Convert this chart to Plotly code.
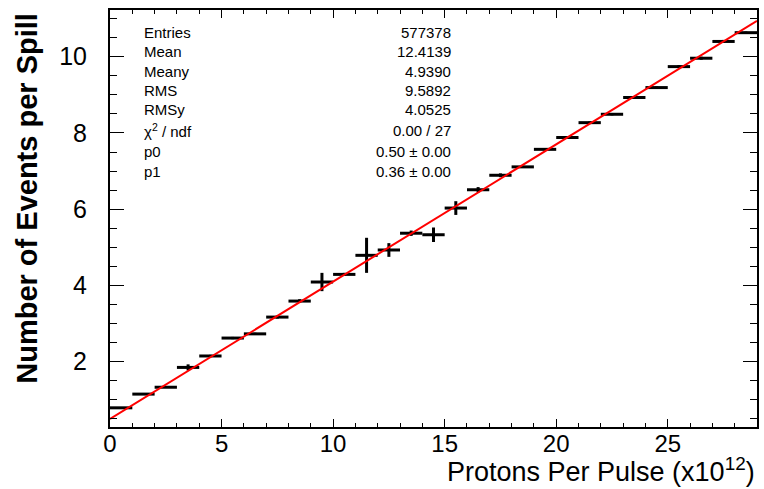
import numpy as np
import plotly.graph_objects as go

# ---- data ----
bin_low = 0.0
bin_width = 1.0
n_bins = 29
events_per_spill = [0.79, 1.15, 1.33, 1.85, 2.15, 2.62, 2.73, 3.17, 3.59, 4.09,
                    4.29, 4.79, 4.93, 5.37, 5.33, 6.03, 6.51, 6.89, 7.11, 7.57,
                    7.88, 8.27, 8.49, 8.93, 9.19, 9.74, 9.96, 10.40, 10.63]
events_err = [0.02, 0.02, 0.02, 0.08, 0.03, 0.03, 0.03, 0.04, 0.05, 0.24,
              0.04, 0.46, 0.18, 0.07, 0.19, 0.18, 0.07, 0.05, 0.03, 0.03,
              0.03, 0.03, 0.03, 0.03, 0.03, 0.04, 0.04, 0.04, 0.03]
fit_p0 = 0.50
fit_p1 = 0.36
stats_labels = ["Entries", "Mean", "Meany", "RMS", "RMSy", "χ<sup>2</sup> / ndf", "p0", "p1"]
stats_values = ["577378", "12.4139", "4.9390", "9.5892", "4.0525", "0.00 / 27",
                "0.50 ± 0.00", "0.36 ± 0.00"]
x_title = "Protons Per Pulse (x10<sup>12</sup>)"
y_title = "Number of Events per Spill"

x_centers = bin_low + bin_width * (np.arange(n_bins) + 0.5)
x_range = [bin_low, bin_low + bin_width * n_bins]
fit_x = np.array(x_range)
fit_y = fit_p0 + fit_p1 * fit_x

FONT = "Liberation Sans, Arial, Helvetica, sans-serif"

fig = go.Figure()
fig.add_trace(go.Scatter(
    x=x_centers, y=events_per_spill, mode="markers",
    marker=dict(size=1, color="rgba(0,0,0,0)"),
    error_x=dict(type="constant", value=bin_width / 2, thickness=3, width=0, color="black"),
    error_y=dict(type="data", array=events_err, thickness=3, width=0, color="black"),
    showlegend=False, hoverinfo="x+y"))
fig.add_trace(go.Scatter(
    x=fit_x, y=fit_y, mode="lines",
    line=dict(color="#ff0000", width=2), showlegend=False))

W, H = 764, 489
ml, mr, mt, mb = 110, 5, 10, 62
pw, ph = W - ml - mr, H - mt - mb

def px_x(p):
    return (p - ml) / pw

def px_y(p):
    return (H - mb - p) / ph

annotations = []
row_y = [32.3, 51.8, 71.0, 90.5, 110.0, 130.5, 151.0, 171.0]
for lab, val, yy in zip(stats_labels, stats_values, row_y):
    annotations.append(dict(xref="paper", yref="paper", x=px_x(142), y=px_y(yy),
                            text=lab, showarrow=False, xanchor="left", yanchor="middle",
                            font=dict(family=FONT, size=15, color="black")))
    annotations.append(dict(xref="paper", yref="paper", x=px_x(454), y=px_y(yy),
                            text=val, showarrow=False, xanchor="right", yanchor="middle",
                            font=dict(family=FONT, size=15, color="black")))
annotations.append(dict(xref="paper", yref="paper", x=px_x(759), y=px_y(470),
                        text=x_title, showarrow=False, xanchor="right", yanchor="middle",
                        font=dict(family=FONT, size=27, color="black")))
annotations.append(dict(xref="paper", yref="paper", x=px_x(27), y=px_y(198.5),
                        text="<b>" + y_title + "</b>", textangle=-90, showarrow=False,
                        xanchor="center", yanchor="middle",
                        font=dict(family=FONT, size=29, color="black")))

fig.update_layout(
    width=W, height=H,
    margin=dict(l=ml, r=mr, t=mt, b=mb),
    paper_bgcolor="white", plot_bgcolor="white",
    annotations=annotations,
    xaxis=dict(range=x_range, showgrid=False, zeroline=False,
               showline=True, linecolor="black", linewidth=2, mirror="allticks",
               ticks="inside", ticklen=8, tickwidth=1, tickcolor="black",
               tick0=0, dtick=5, ticklabelstandoff=-6,
               minor=dict(ticks="inside", dtick=1, ticklen=4, tickwidth=1, tickcolor="black", showgrid=False),
               tickfont=dict(family=FONT, size=24, color="black")),
    yaxis=dict(range=[0.287, 11.225], showgrid=False, zeroline=False,
               showline=True, linecolor="black", linewidth=2, mirror="allticks",
               ticks="inside", ticklen=14, tickwidth=1, tickcolor="black",
               tick0=0, dtick=2, ticklabelstandoff=16,
               minor=dict(ticks="inside", dtick=0.5, ticklen=7, tickwidth=1, tickcolor="black", showgrid=False),
               tickfont=dict(family=FONT, size=25, color="black")),
)

fig.write_html("out.html", config={"displayModeBar": False},
               post_script="document.body.style.margin='0px';")
